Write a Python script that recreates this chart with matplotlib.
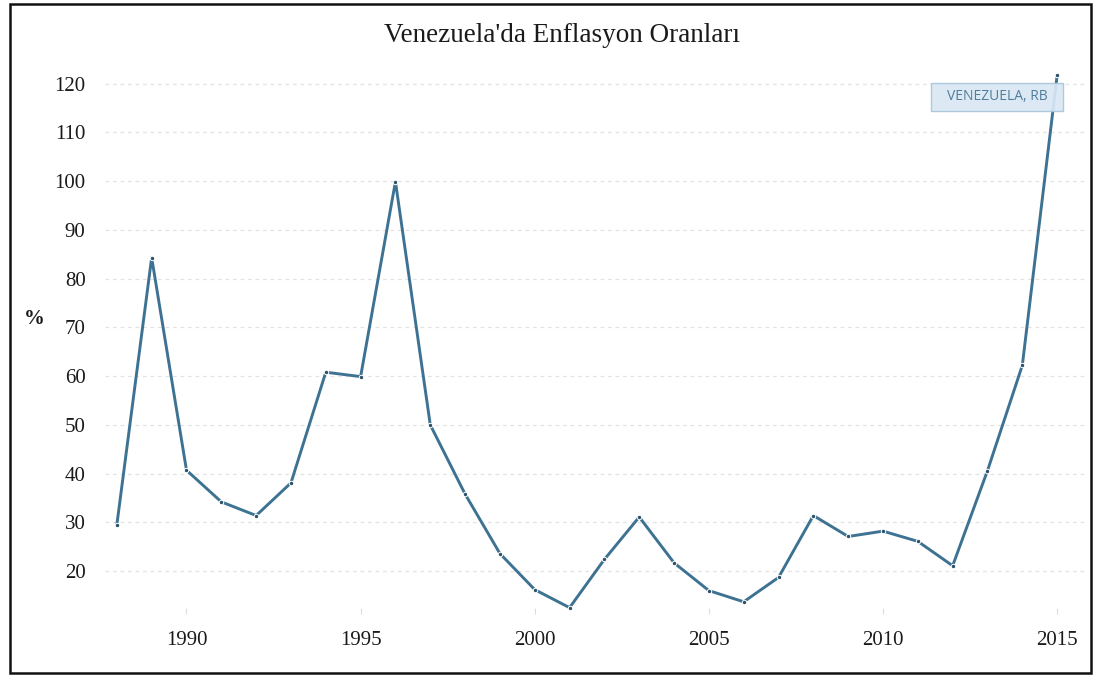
import matplotlib
matplotlib.use("Agg")
import matplotlib.pyplot as plt
from matplotlib.patches import Rectangle

years = list(range(1988, 2016))
inflation = [29.5, 84.3, 40.7, 34.2, 31.4, 38.1, 60.8, 59.9, 99.9, 50.0,
             35.8, 23.6, 16.2, 12.5, 22.4, 31.1, 21.7, 16.0, 13.7, 18.7,
             31.4, 27.1, 28.2, 26.1, 21.1, 40.6, 62.2, 121.7]
yticks = [20, 30, 40, 50, 60, 70, 80, 90, 100, 110, 120]
xticks = [1990, 1995, 2000, 2005, 2010, 2015]
title = "Venezuela'da Enflasyon Oranları"
series_name = "VENEZUELA, RB"

W, H = 1094, 675
fig = plt.figure(figsize=(W / 100, H / 100), dpi=100)
serif = ["Liberation Serif", "DejaVu Serif"]

ax = fig.add_axes([105 / W, 1 - 614 / H, (1085 - 105) / W, (614 - 70) / H])
ax.set_xlim(1987.66, 2015.8)
ax.set_ylim(11.2, 122.8)
for s in ax.spines.values():
    s.set_visible(False)

ax.set_yticks(yticks)
ax.set_yticklabels([str(v) for v in yticks], fontfamily=serif, fontsize=15, color="#1a1a1a")
ax.set_xticks(xticks)
ax.set_xticklabels([str(v) for v in xticks], fontfamily=serif, fontsize=15, color="#1a1a1a")
ax.tick_params(axis="y", length=0, pad=14)
ax.tick_params(axis="x", length=4, width=0.8, color="#dcdcdc", pad=12, direction="in")

for v in yticks:
    ax.axhline(v, color="#e3e3e3", linewidth=0.9, linestyle=(0, (3, 3)), zorder=1)

ax.plot(years, inflation, color="#3e7292", linewidth=2.1, zorder=3,
        marker="o", markersize=3.2, markerfacecolor="#2c5168",
        markeredgecolor="white", markeredgewidth=0.7)

fig.text(562 / W, 1 - 35 / H, title, ha="center", va="center",
         fontfamily=serif, fontsize=19.5, color="#1a1a1a")
fig.text(34 / W, 1 - 319 / H, "%", ha="center", va="center",
         fontfamily=serif, fontsize=15, fontweight="bold", color="#1a1a1a")

# legend box
fig.patches.append(Rectangle((931 / W, 1 - 111 / H), 132 / W, 28 / H,
                             transform=fig.transFigure, facecolor="#d9e8f4",
                             edgecolor="#a9c6dc", linewidth=1.0, alpha=0.92, zorder=5))
fig.text(997 / W, 1 - 97 / H, series_name, ha="center", va="center",
         fontfamily=["Open Sans", "DejaVu Sans"], fontsize=10, color="#4f7d9c", zorder=6)

# outer border
fig.patches.append(Rectangle((9.5 / W, 1 - 672.5 / H), (1091 - 9.5) / W, (672.5 - 4) / H,
                             transform=fig.transFigure, facecolor="none",
                             edgecolor="#111111", linewidth=1.8, zorder=10))

fig.savefig("out.png", dpi=100, facecolor="white")
